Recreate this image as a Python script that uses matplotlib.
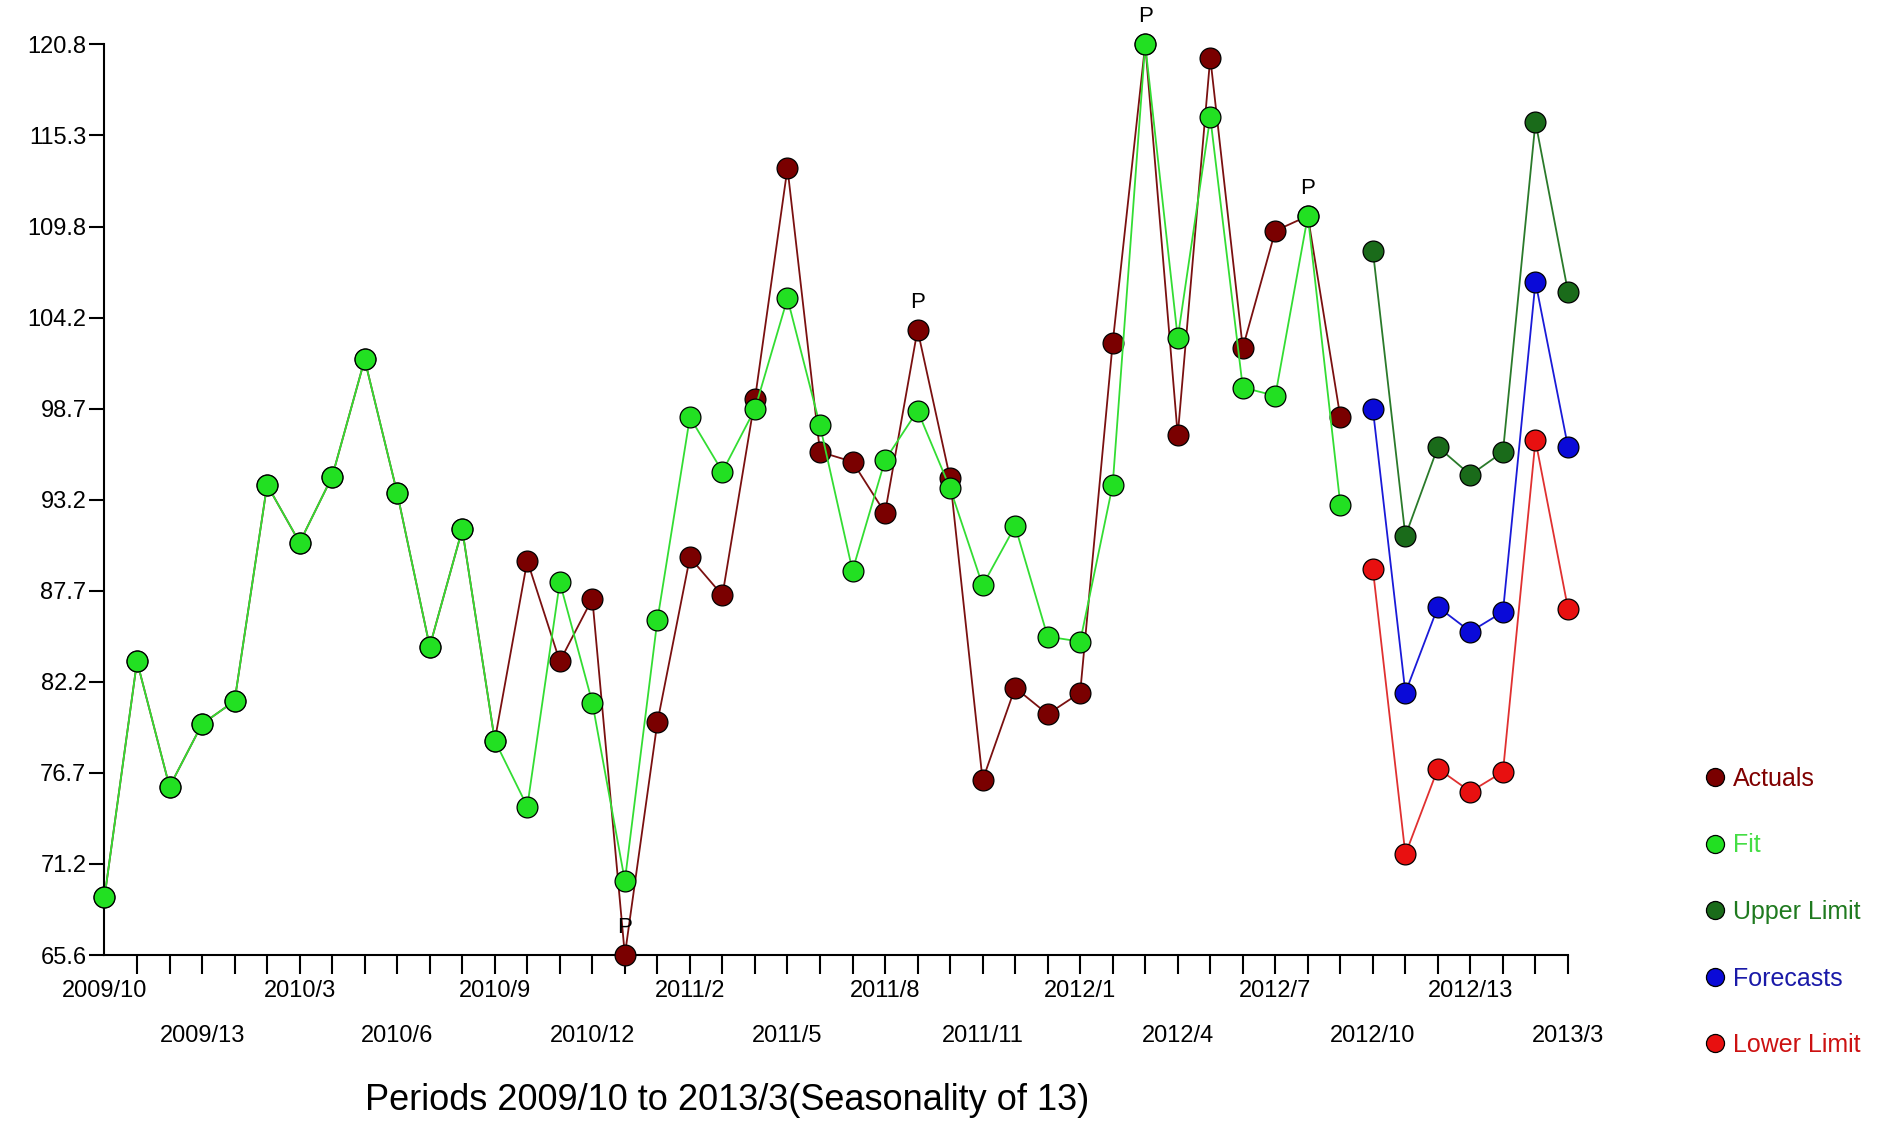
import numpy as np
from matplotlib import pyplot as plt
from matplotlib.lines import Line2D

plt.rcParams['font.family'] = ['Liberation Sans', 'DejaVu Sans']

# periods 2009/10 .. 2013/3, seasonality 13 -> 46 periods
n_periods = 46
xtick_labels = ['2009/10', '2009/13', '2010/3', '2010/6', '2010/9', '2010/12',
                '2011/2', '2011/5', '2011/8', '2011/11', '2012/1', '2012/4',
                '2012/7', '2012/10', '2012/13', '2013/3']
ytick_labels = ['65.6', '71.2', '76.7', '82.2', '87.7', '93.2',
                '98.7', '104.2', '109.8', '115.3', '120.8']

actuals = [69.1, 83.4, 75.8, 79.6, 81.0, 94.1, 90.6, 94.6, 101.7, 93.6, 84.3, 91.4, 78.6,
           89.5, 83.4, 87.2, 65.6, 79.7, 89.7, 87.4, 99.3, 113.3, 96.1, 95.5, 92.4,
           103.5, 94.5, 76.2, 81.8, 80.2, 81.5, 102.7, 120.8, 97.1, 120.0, 102.4,
           109.5, 110.4, 98.2]
fit = [69.1, 83.4, 75.8, 79.6, 81.0, 94.1, 90.6, 94.6, 101.7, 93.6, 84.3, 91.4, 78.6,
       74.6, 88.2, 80.9, 70.1, 85.9, 98.2, 94.9, 98.7, 105.4, 97.7, 88.9, 95.6,
       98.6, 93.9, 88.0, 91.6, 84.9, 84.6, 94.1, 120.8, 103.0, 116.4, 100.0,
       99.5, 110.4, 92.9]
upper = [108.3, 91.0, 96.4, 94.7, 96.1, 116.1, 105.8]
forecasts = [98.7, 81.5, 86.7, 85.2, 86.4, 106.4, 96.4]
lower = [89.0, 71.7, 76.9, 75.5, 76.7, 96.8, 86.6]
p_flags = [16, 25, 32, 37]

x_hist = np.arange(len(actuals))
x_fc = np.arange(len(actuals), n_periods)

fig = plt.figure(figsize=(18.83, 11.24), dpi=100)
ax = fig.add_axes([104.5 / 1883, 169 / 1124, (1568 - 104.5) / 1883, (955 - 44.4) / 1124])

mk = dict(marker='o', markersize=15, markeredgecolor='black', markeredgewidth=0.9,
          linewidth=1.3, clip_on=False)

ax.plot(x_hist, actuals, color='#7a1010', markerfacecolor='#7a0000', zorder=3, **mk)
ax.plot(x_hist, fit, color='#33dd33', markerfacecolor='#22e022', zorder=4, **mk)
ax.plot(x_fc, upper, color='#2a7a2a', markerfacecolor='#1a6b1a', zorder=3, **mk)
ax.plot(x_fc, forecasts, color='#1a1ad8', markerfacecolor='#0a0ad8', zorder=3, **mk)
ax.plot(x_fc, lower, color='#e03030', markerfacecolor='#e81010', zorder=3, **mk)

for i in p_flags:
    ax.annotate('P', (i, actuals[i]), xytext=(0, 20), textcoords='offset points',
                ha='center', va='center', fontsize=16, color='black', zorder=5)

ax.set_xlim(0, n_periods - 1)
ax.set_ylim(65.6, 120.8)

ax.set_yticks(np.linspace(65.6, 120.8, len(ytick_labels)), ytick_labels)
ax.set_xticks(np.arange(1, n_periods), [])
ax.tick_params(axis='y', length=11, width=1.5, labelsize=17, pad=2)
ax.tick_params(axis='x', length=14, width=1.5)

for k, lab in enumerate(xtick_labels):
    ypos = -0.0395 if k % 2 == 0 else -0.089
    ax.text(k * 3, ypos, lab, transform=ax.get_xaxis_transform(),
            ha='center', va='center', fontsize=17)

for side in ['top', 'right']:
    ax.spines[side].set_visible(False)
for side in ['left', 'bottom']:
    ax.spines[side].set_linewidth(1.5)

fig.text(727 / 1883, 1 - 1100 / 1124, 'Periods 2009/10 to 2013/3(Seasonality of 13)',
         ha='center', va='center', fontsize=26)

handles = [
    Line2D([], [], linestyle='none', marker='o', markersize=13, markeredgecolor='black',
           markeredgewidth=0.9, markerfacecolor=c)
    for c in ['#7a0000', '#22e022', '#1a6b1a', '#0a0ad8', '#e81010']
]
labels = ['Actuals', 'Fit', 'Upper Limit', 'Forecasts', 'Lower Limit']
fig.legend(handles, labels, loc='center left', bbox_to_anchor=(1694 / 1883, 1 - 912 / 1124),
           frameon=False, fontsize=18, labelspacing=1.7, handlelength=0.7,
           handletextpad=0.35, borderpad=0,
           labelcolor=['#800000', '#44dd44', '#1f7a1f', '#1a1aa8', '#cc1111'])

plt.savefig('out.png', dpi=100)
plt.close()
